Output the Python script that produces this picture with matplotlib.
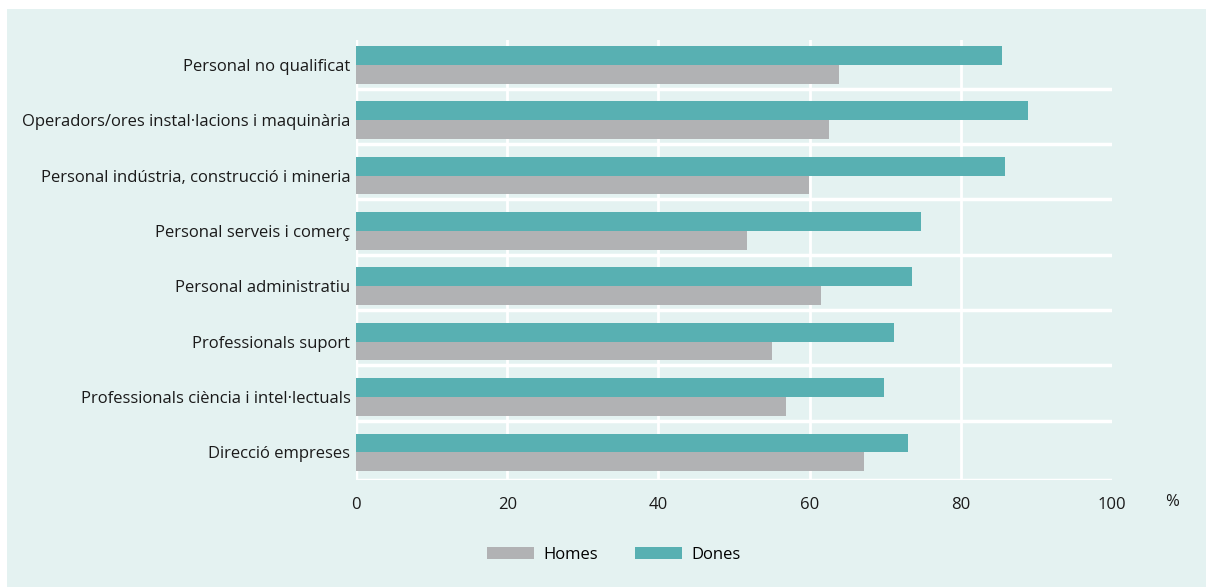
import matplotlib.pyplot as plt
from matplotlib.patches import Rectangle
import numpy as np

plt.rcParams['font.family'] = ['Open Sans', 'DejaVu Sans']

# Data (bottom to top, as drawn by barh)
categories = ['Direcció empreses',
              'Professionals ciència i intel·lectuals',
              'Professionals suport',
              'Personal administratiu',
              'Personal serveis i comerç',
              'Personal indústria, construcció i mineria',
              'Operadors/ores instal·lacions i maquinària',
              'Personal no qualificat']
homes = [67.2, 56.9, 55.0, 61.5, 51.7, 59.9, 62.6, 63.9]
dones = [73.0, 69.8, 71.2, 73.5, 74.7, 85.8, 88.9, 85.4]
xticks = [0, 20, 40, 60, 80, 100]

bg = '#e4f2f1'
teal = '#58b0b2'
grey = '#b1b2b4'

fig = plt.figure(figsize=(12.06, 5.87), dpi=100)
fig.patch.set_facecolor('white')
# tinted panel behind everything
fig.patches.append(Rectangle((7 / 1206, 0), 1, 1 - 9 / 587, transform=fig.transFigure,
                             facecolor=bg, edgecolor='none', zorder=-10))

ax = fig.add_axes([356 / 1206, 1 - 480 / 587, 756 / 1206, 440 / 587])
ax.set_facecolor(bg)

y = np.arange(len(categories))
h = 0.34
ax.barh(y - h / 2, homes, height=h, color=grey, label='Homes', zorder=3)
ax.barh(y + h / 2, dones, height=h, color=teal, label='Dones', zorder=3)

ax.set_xlim(0, 100)
ax.set_ylim(-0.5, 7.45)

# white grid: vertical lines at inner ticks, horizontal separators between groups
for xv in xticks[1:-1]:
    ax.axvline(xv, color='white', lw=2, zorder=1)
ax.axhline(-0.5, color='white', lw=2.5, zorder=1)
for i in range(1, len(categories)):
    ax.axhline(i - 0.43, color='white', lw=2.5, zorder=1)
ax.axvline(0, color='white', lw=2.5, zorder=1)

for s in ax.spines.values():
    s.set_visible(False)

ax.set_xticks(xticks)
ax.set_xticklabels([str(v) for v in xticks], fontsize=12, color='#1a1a1a')
ax.set_yticks(y)
ax.set_yticklabels(categories, fontsize=12, color='#1a1a1a')
ax.tick_params(axis='both', length=0)
ax.tick_params(axis='x', pad=12)
ax.tick_params(axis='y', pad=4)

fig.text(1172 / 1206, 1 - 502 / 587, '%', fontsize=12, ha='center', va='center', color='#1a1a1a')

handles, labels = ax.get_legend_handles_labels()
leg = fig.legend(handles, labels, loc='center', bbox_to_anchor=(614 / 1206, 1 - 555 / 587),
                 ncol=2, frameon=False, fontsize=12, handlelength=2.8, handleheight=0.75,
                 columnspacing=2.2, handletextpad=0.6)

plt.savefig('out.png', dpi=100, facecolor=fig.get_facecolor())
